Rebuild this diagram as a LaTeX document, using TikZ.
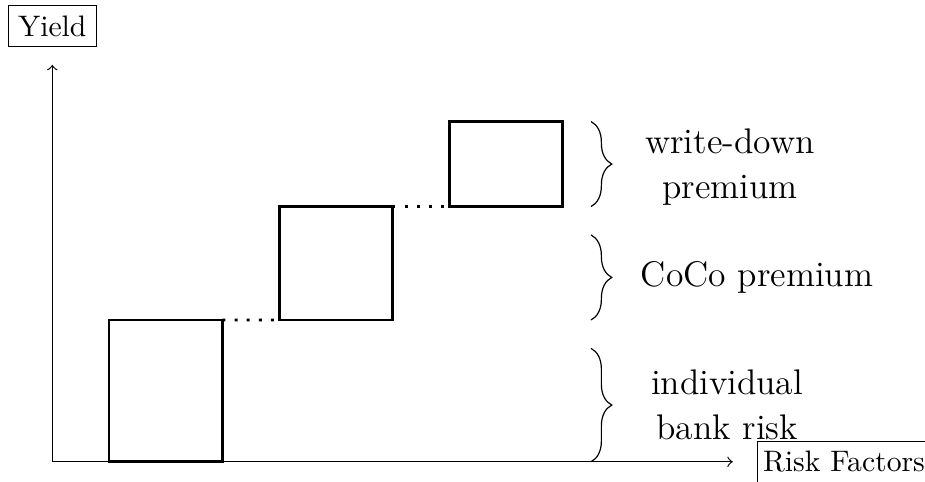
\documentclass[tikz,border=0pt]{standalone}
\usepackage{tikz}
\usetikzlibrary{arrows}
\usetikzlibrary{positioning}
\usetikzlibrary{decorations.pathreplacing}

\begin{document}
\begin{tikzpicture}[
  x=0.672cm, y=0.672cm,
  axis/.style={
    ->,line width=0.4pt
  },
  bar/.style 2 args={
    rectangle,
    draw=black,
    line width=0.35mm,
    anchor=south west,
    minimum width=#1*0.672cm,
    minimum height=#2*0.672cm,
    inner sep=0pt,
    outer sep=0pt},
  gap/.style={
    line width=0.35mm,
    dash pattern=on 0.35mm off 3.1pt},
  lbl/.style={
    align=center,
    font=\large},
  premium/.style={
    decorate,
    decoration={brace, amplitude=7pt}},
]

  \def\barwidth{2}%
  \def\bracex{9.5}%

  \useasboundingbox (-0.922,-0.340) rectangle (15.39,8.143);

    % Axes
  \coordinate (origin) at (0,0);
  \coordinate (xend) at (12,0);
  \coordinate (yend) at (0,7);
  \draw[axis] (origin) -- (xend);
  \draw[axis] (origin) -- (yend);
  \node[draw, above=6pt of yend] (yield) {Yield};
  \node[draw, inner xsep=2pt, right=8pt of xend] (risk) {Risk Factors};

    % Yield components
  \node[bar={\barwidth}{2.5}] (bank) at (1,0) {};
  \node[bar={\barwidth}{2}] (coco) at (4,2.5) {};
  \node[bar={\barwidth}{1.5}] (wd) at (7,4.5) {};
  \draw[gap] (bank.north east) -- (coco.south west);
  \draw[gap] (coco.north east) -- (wd.south west);

    % Braces and their labels
  \foreach \lo/\hi in {0/2, 2.5/4, 4.5/6} {
    \draw[premium] (\bracex,\hi) -- (\bracex,\lo);
  }
  \node[lbl] (bankrisk) at (11.9,1) {individual\\[1pt]bank risk};
  \node[lbl] (cocoprem) at (12.43,3.25) {CoCo premium};
  \node[lbl] (wdprem) at (11.95,5.2) {write-down\\[1pt]premium};

\end{tikzpicture}
\end{document}
